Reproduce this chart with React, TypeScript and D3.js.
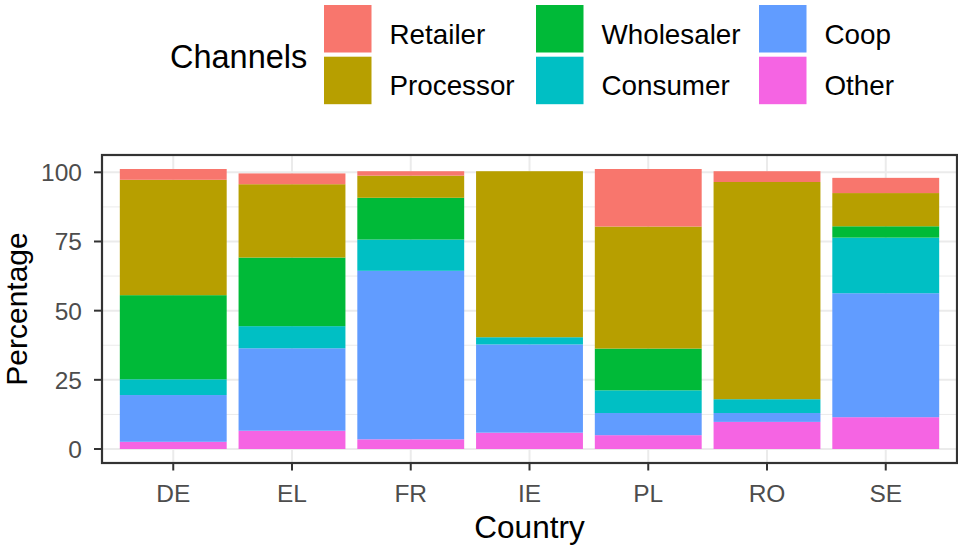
import React from "react";
import * as d3 from "d3";

const countries = ["DE", "EL", "FR", "IE", "PL", "RO", "SE"];
const channels = ["Retailer", "Processor", "Wholesaler", "Consumer", "Coop", "Other"];
const channelColors = ["#F8766D", "#B79F00", "#00BA38", "#00BFC4", "#619CFF", "#F564E3"];
const retailer = [3.9, 3.9, 1.6, 0, 20.8, 3.9, 5.5];
const processor = [41.7, 26.5, 8.0, 60.0, 44.1, 78.5, 12.0];
const wholesaler = [30.4, 24.8, 15.1, 0, 15.1, 0, 4.1];
const consumer = [5.7, 8.0, 11.3, 2.6, 8.2, 5.0, 20.1];
const coop = [16.9, 29.8, 60.9, 31.9, 8.0, 3.2, 44.8];
const other = [2.6, 6.6, 3.5, 5.9, 5.0, 9.8, 11.5];
const yTicks = [0, 25, 50, 75, 100];
const yMinor = [12.5, 37.5, 62.5, 87.5];

const seriesByChannel: Record<string, number[]> = {
  Retailer: retailer,
  Processor: processor,
  Wholesaler: wholesaler,
  Consumer: consumer,
  Coop: coop,
  Other: other,
};

const W = 958;
const H = 547;
const panel = { left: 102, right: 957, top: 155, bottom: 463 };
const FONT = "'Liberation Sans', Arial, sans-serif";

export default function App() {
  const rows = countries.map((c, i) => {
    const r: any = { country: c };
    channels.forEach((ch) => (r[ch] = seriesByChannel[ch][i]));
    return r;
  });
  const stackKeys = [...channels].reverse(); // bottom first
  const stacked = d3.stack().keys(stackKeys)(rows);
  const maxTotal = d3.max(rows, (r: any) => d3.sum(channels, (ch) => r[ch])) as number;
  const pad = maxTotal * 0.05;
  const y = d3.scaleLinear().domain([-pad, maxTotal + pad]).range([panel.bottom, panel.top]);
  const x = d3.scaleLinear().domain([0.4, countries.length + 0.6]).range([panel.left, panel.right]);
  const color = d3.scaleOrdinal<string, string>().domain(channels).range(channelColors);
  const barW = x(1.45) - x(1);

  const keyX = [324, 536, 759];
  const keyY = [5, 56.7];
  const keySize = 47.5;

  return (
    <svg width={W} height={H} style={{ position: "absolute", left: 0, top: 0, background: "#fff" }} fontFamily={FONT}>
      <rect x={0} y={0} width={W} height={H} fill="#fff" />
      {yMinor.map((t) => (
        <line key={"mn" + t} x1={panel.left} x2={panel.right} y1={y(t)} y2={y(t)} stroke="#EBEBEB" strokeWidth={1} />
      ))}
      {yTicks.map((t) => (
        <line key={"mj" + t} x1={panel.left} x2={panel.right} y1={y(t)} y2={y(t)} stroke="#EBEBEB" strokeWidth={2} />
      ))}
      {countries.map((c, i) => (
        <line key={"gx" + c} x1={x(i + 1)} x2={x(i + 1)} y1={panel.top} y2={panel.bottom} stroke="#EBEBEB" strokeWidth={2} />
      ))}
      {stacked.map((s: any) => (
        <g key={s.key} fill={color(s.key)}>
          {s.map((d: any, i: number) =>
            d[1] - d[0] > 0 ? (
              <rect key={i} x={x(i + 1) - barW} y={y(d[1])} width={barW * 2} height={y(d[0]) - y(d[1])} />
            ) : null
          )}
        </g>
      ))}
      <rect x={panel.left} y={panel.top} width={panel.right - panel.left} height={panel.bottom - panel.top} fill="none" stroke="#333333" strokeWidth={2.2} />
      {yTicks.map((t) => (
        <g key={"yt" + t}>
          <line x1={panel.left - 8} x2={panel.left} y1={y(t)} y2={y(t)} stroke="#333333" strokeWidth={2} />
          <text x={82} y={y(t) + 9} textAnchor="end" fontSize={24.5} fill="#4D4D4D">
            {t}
          </text>
        </g>
      ))}
      {countries.map((c, i) => (
        <g key={"xt" + c}>
          <line x1={x(i + 1)} x2={x(i + 1)} y1={panel.bottom} y2={panel.bottom + 7.5} stroke="#333333" strokeWidth={2} />
          <text x={x(i + 1)} y={502} textAnchor="middle" fontSize={24.5} fill="#4D4D4D">
            {c}
          </text>
        </g>
      ))}
      <text x={(panel.left + panel.right) / 2} y={538} textAnchor="middle" fontSize={31.5} fill="#000">
        Country
      </text>
      <text transform={`translate(27,${(panel.top + panel.bottom) / 2}) rotate(-90)`} textAnchor="middle" fontSize={30} fill="#000">
        Percentage
      </text>
      <text x={170} y={68} fontSize={32.5} fill="#000">
        Channels
      </text>
      {channels.map((ch, i) => {
        const col = Math.floor(i / 2);
        const row = i % 2;
        return (
          <g key={"lg" + ch}>
            <rect x={keyX[col]} y={keyY[row]} width={keySize} height={keySize} fill={color(ch)} />
            <text x={keyX[col] + keySize + 18} y={keyY[row] + 38.5} fontSize={27.8} fill="#000">
              {ch}
            </text>
          </g>
        );
      })}
    </svg>
  );
}
